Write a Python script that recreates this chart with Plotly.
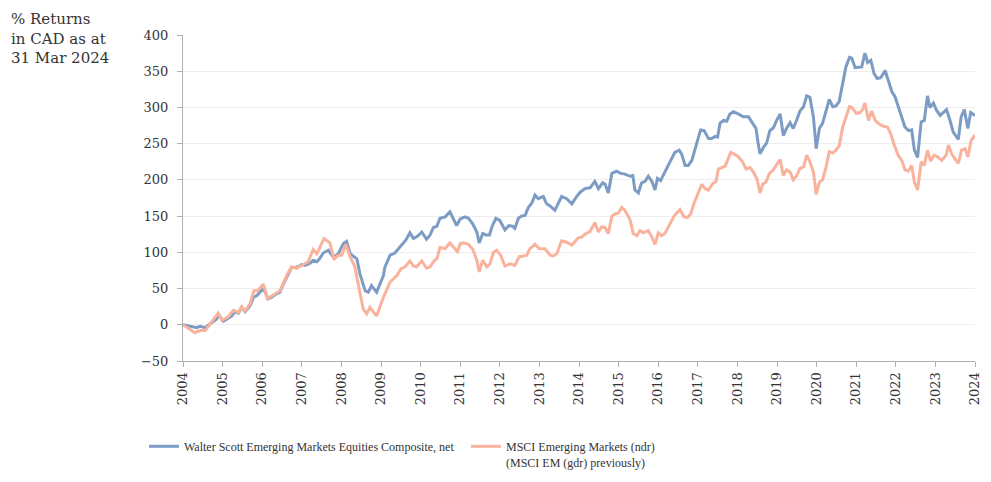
import plotly.graph_objects as go

# Walter Scott Emerging Markets Equities Composite, net (cumulative % return, CAD)
ws_x = [2004.00, 2004.18, 2004.35, 2004.43, 2004.56, 2004.68, 2004.85, 2004.90, 2005.02, 2005.14,
        2005.23, 2005.31, 2005.40, 2005.48, 2005.57, 2005.69, 2005.78, 2005.86, 2005.99, 2006.03,
        2006.15, 2006.24, 2006.37, 2006.45, 2006.53, 2006.63, 2006.74, 2006.83, 2006.91, 2007.00,
        2007.08, 2007.21, 2007.29, 2007.38, 2007.46, 2007.54, 2007.67, 2007.80, 2007.92, 2008.05,
        2008.13, 2008.22, 2008.39, 2008.47, 2008.60, 2008.68, 2008.76, 2008.89, 2009.06, 2009.10,
        2009.23, 2009.35, 2009.44, 2009.52, 2009.63, 2009.73, 2009.82, 2009.92, 2010.03, 2010.15,
        2010.24, 2010.32, 2010.41, 2010.49, 2010.62, 2010.74, 2010.83, 2010.91, 2011.00, 2011.12,
        2011.21, 2011.32, 2011.42, 2011.48, 2011.57, 2011.65, 2011.74, 2011.80, 2011.90, 2012.00,
        2012.13, 2012.23, 2012.32, 2012.38, 2012.47, 2012.55, 2012.64, 2012.72, 2012.81, 2012.89,
        2012.97, 2013.10, 2013.18, 2013.27, 2013.39, 2013.56, 2013.69, 2013.82, 2013.94, 2014.03,
        2014.15, 2014.28, 2014.40, 2014.49, 2014.60, 2014.66, 2014.74, 2014.83, 2014.95, 2015.05,
        2015.16, 2015.29, 2015.36, 2015.41, 2015.50, 2015.58, 2015.67, 2015.75, 2015.84, 2015.92,
        2015.98, 2016.06, 2016.17, 2016.30, 2016.42, 2016.53, 2016.59, 2016.68, 2016.76, 2016.85,
        2016.93, 2017.07, 2017.16, 2017.27, 2017.35, 2017.44, 2017.50, 2017.56, 2017.65, 2017.73,
        2017.81, 2017.90, 2018.02, 2018.15, 2018.28, 2018.36, 2018.47, 2018.53, 2018.57, 2018.66,
        2018.74, 2018.82, 2018.91, 2018.99, 2019.08, 2019.16, 2019.24, 2019.33, 2019.41, 2019.50,
        2019.58, 2019.67, 2019.75, 2019.83, 2019.92, 2019.99, 2020.07, 2020.15, 2020.24, 2020.32,
        2020.41, 2020.49, 2020.57, 2020.66, 2020.74, 2020.83, 2020.89, 2020.97, 2021.05, 2021.14,
        2021.22, 2021.29, 2021.37, 2021.45, 2021.53, 2021.62, 2021.73, 2021.81, 2021.90, 2021.98,
        2022.06, 2022.15, 2022.23, 2022.32, 2022.40, 2022.47, 2022.55, 2022.64, 2022.72, 2022.80,
        2022.86, 2022.95, 2023.03, 2023.12, 2023.20, 2023.28, 2023.37, 2023.45, 2023.58, 2023.65,
        2023.73, 2023.82, 2023.89, 2024.00]
ws_y = [0, -2, -4, -2, -4, 1, 8, 14, 5, 9,
        12, 18, 16, 24, 18, 26, 38, 40, 47, 50,
        36, 38, 43, 45, 56, 68, 79, 79, 80, 83,
        82, 85, 89, 87, 92, 99, 103, 93, 98, 112,
        115, 98, 91, 70, 47, 45, 54, 45, 68, 80,
        96, 99, 105, 111, 117, 127, 119, 122, 128, 118,
        124, 134, 136, 147, 149, 156, 147, 137, 146, 149,
        147, 139, 128, 113, 126, 124, 124, 135, 147, 144,
        131, 137, 136, 133, 147, 150, 151, 162, 168, 179,
        174, 177, 167, 164, 158, 177, 174, 167, 177, 183,
        188, 189, 198, 188, 196, 194, 182, 209, 212, 209,
        208, 205, 206, 186, 182, 196, 198, 205, 198, 186,
        202, 199, 211, 225, 238, 241, 236, 220, 220, 227,
        243, 269, 268, 257, 257, 260, 259, 278, 282, 281,
        291, 294, 291, 287, 287, 280, 271, 248, 236, 245,
        251, 268, 272, 282, 291, 261, 271, 279, 271, 283,
        295, 301, 316, 314, 287, 243, 271, 278, 294, 311,
        301, 302, 308, 333, 356, 369, 368, 355, 355, 356,
        375, 362, 365, 347, 340, 341, 351, 338, 322, 315,
        301, 287, 273, 268, 269, 241, 231, 280, 282, 316,
        300, 306, 296, 289, 293, 297, 282, 266, 256, 287,
        297, 271, 293, 289]

# MSCI Emerging Markets (ndr) (MSCI EM (gdr) previously)
msci_x = [2004.00, 2004.30, 2004.43, 2004.56, 2004.68, 2004.89, 2004.98, 2005.14, 2005.27, 2005.40,
          2005.48, 2005.57, 2005.69, 2005.79, 2005.88, 2006.03, 2006.13, 2006.32, 2006.45, 2006.62,
          2006.74, 2006.87, 2007.00, 2007.16, 2007.29, 2007.38, 2007.56, 2007.71, 2007.81, 2007.92,
          2008.01, 2008.11, 2008.22, 2008.34, 2008.44, 2008.55, 2008.64, 2008.72, 2008.89, 2009.06,
          2009.23, 2009.40, 2009.50, 2009.61, 2009.73, 2009.82, 2009.90, 2010.03, 2010.15, 2010.24,
          2010.35, 2010.41, 2010.49, 2010.62, 2010.74, 2010.83, 2010.93, 2011.00, 2011.08, 2011.21,
          2011.32, 2011.42, 2011.48, 2011.57, 2011.67, 2011.75, 2011.84, 2011.92, 2012.02, 2012.13,
          2012.26, 2012.38, 2012.49, 2012.60, 2012.68, 2012.76, 2012.89, 2013.00, 2013.14, 2013.27,
          2013.35, 2013.44, 2013.56, 2013.69, 2013.82, 2013.98, 2014.07, 2014.15, 2014.28, 2014.40,
          2014.49, 2014.57, 2014.66, 2014.74, 2014.83, 2014.91, 2014.99, 2015.08, 2015.16, 2015.29,
          2015.37, 2015.46, 2015.54, 2015.62, 2015.75, 2015.84, 2015.92, 2016.00, 2016.09, 2016.17,
          2016.30, 2016.40, 2016.55, 2016.65, 2016.74, 2016.82, 2016.90, 2017.01, 2017.10, 2017.18,
          2017.27, 2017.38, 2017.46, 2017.52, 2017.60, 2017.69, 2017.75, 2017.83, 2017.91, 2018.02,
          2018.13, 2018.22, 2018.32, 2018.40, 2018.49, 2018.57, 2018.64, 2018.72, 2018.81, 2018.91,
          2018.99, 2019.08, 2019.16, 2019.24, 2019.33, 2019.41, 2019.50, 2019.58, 2019.67, 2019.75,
          2019.83, 2019.92, 2019.99, 2020.07, 2020.15, 2020.24, 2020.32, 2020.41, 2020.49, 2020.57,
          2020.66, 2020.74, 2020.83, 2020.89, 2021.00, 2021.10, 2021.16, 2021.22, 2021.31, 2021.39,
          2021.48, 2021.58, 2021.69, 2021.79, 2021.87, 2021.96, 2022.06, 2022.15, 2022.23, 2022.32,
          2022.40, 2022.47, 2022.55, 2022.64, 2022.72, 2022.80, 2022.88, 2022.97, 2023.05, 2023.16,
          2023.27, 2023.33, 2023.41, 2023.52, 2023.58, 2023.66, 2023.75, 2023.82, 2023.90, 2024.00]
msci_y = [0, -11, -8, -8, 1, 16, 6, 11, 20, 17,
          25, 19, 29, 47, 47, 56, 36, 43, 47, 68,
          80, 78, 82, 87, 104, 98, 119, 113, 90, 96,
          96, 111, 94, 80, 52, 22, 15, 24, 12, 38,
          59, 68, 77, 80, 88, 81, 80, 88, 78, 80,
          89, 91, 107, 105, 113, 107, 101, 112, 113, 111,
          104, 89, 73, 89, 80, 84, 100, 103, 96, 81,
          84, 82, 94, 95, 96, 105, 111, 105, 105, 96,
          95, 98, 116, 114, 110, 120, 121, 125, 129, 141,
          128, 135, 134, 126, 150, 153, 154, 162, 158, 145,
          126, 123, 130, 127, 130, 121, 111, 127, 123, 126,
          140, 150, 159, 149, 148, 153, 167, 183, 194, 188,
          186, 195, 198, 215, 217, 219, 227, 238, 236, 232,
          225, 215, 217, 211, 202, 182, 194, 197, 209, 214,
          221, 228, 206, 214, 211, 200, 206, 216, 218, 234,
          225, 211, 180, 197, 200, 218, 239, 237, 241, 247,
          273, 287, 301, 300, 292, 293, 297, 306, 282, 295,
          282, 277, 274, 273, 264, 248, 234, 227, 214, 212,
          220, 197, 186, 225, 220, 241, 226, 234, 232, 227,
          234, 248, 236, 227, 223, 241, 243, 232, 254, 262]

x_ticks = list(range(2004, 2025))
y_ticks = [-50, 0, 50, 100, 150, 200, 250, 300, 350, 400]

BLUE = "#7c9cc3"
ORANGE = "#f9b39d"
TXT = "#333333"
SERIF = "DejaVu Serif"
LEG_FONT = "Liberation Serif"

# the page body keeps its default 8px margin, so the figure is sized to fit the window
W, H = 983, 474
L, R, T, B = 175, 16, 27, 121
PW, PH = W - L - R, H - T - B

fig = go.Figure()
fig.add_trace(go.Scatter(
    x=ws_x, y=ws_y, mode="lines", showlegend=True,
    name="Walter Scott Emerging Markets Equities Composite, net",
    line=dict(color=BLUE, width=3), legend="legend"))
fig.add_trace(go.Scatter(
    x=msci_x, y=msci_y, mode="lines", showlegend=True,
    name="MSCI Emerging Markets (ndr)<br>(MSCI EM (gdr) previously)",
    line=dict(color=ORANGE, width=3), legend="legend2"))

axis_common = dict(
    showline=True, linecolor="#b0b0b0", linewidth=1,
    ticks="outside", ticklen=5, tickcolor="#b0b0b0",
    tickfont=dict(family=SERIF, size=13, color=TXT),
)

leg_y = -(424 - (T + PH)) / PH
fig.update_layout(
    width=W, height=H, showlegend=True,
    margin=dict(l=L, r=R, t=T, b=B, autoexpand=False),
    paper_bgcolor="white", plot_bgcolor="white",
    xaxis=dict(range=[2004, 2024], tickvals=x_ticks, ticktext=[str(v) for v in x_ticks],
               tickangle=-90, showgrid=False, zeroline=False, automargin=False, **axis_common),
    yaxis=dict(range=[-50, 400], tickvals=y_ticks, showgrid=True, gridcolor="#eeeeee",
               gridwidth=1, zeroline=False, ticklabelstandoff=6, automargin=False, **axis_common),
    legend=dict(orientation="h", x=(136 - L) / PW, xanchor="left", y=leg_y, yanchor="top",
                font=dict(family=LEG_FONT, size=12, color=TXT), bgcolor="rgba(0,0,0,0)",
                valign="top"),
    legend2=dict(orientation="h", x=(458 - L) / PW, xanchor="left", y=leg_y, yanchor="top",
                 font=dict(family=LEG_FONT, size=12, color=TXT), bgcolor="rgba(0,0,0,0)",
                 valign="top"),
    annotations=[dict(
        text="% Returns<br>in CAD as at<br>31 Mar 2024",
        xref="paper", yref="paper", x=(1 - L) / PW, y=1 + T / PH,
        xanchor="left", yanchor="top", align="left", showarrow=False,
        font=dict(family=SERIF, size=15, color=TXT))],
)

fig.write_html("out.html")
